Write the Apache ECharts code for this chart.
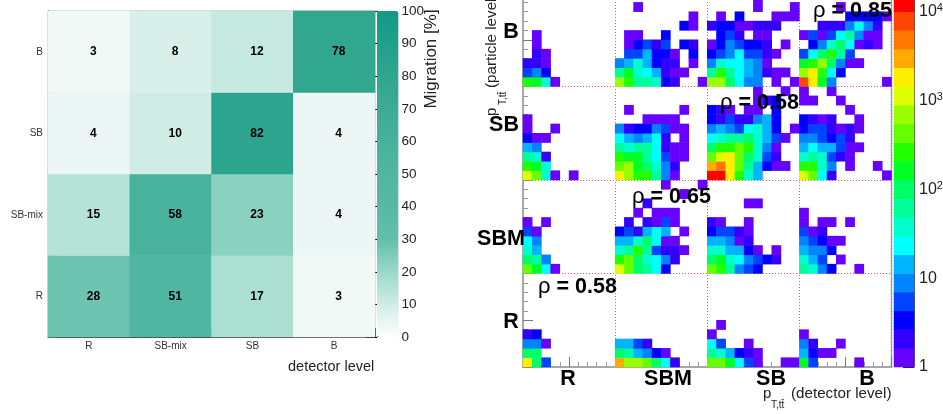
<!DOCTYPE html>
<html><head><meta charset="utf-8">
<style>html,body{margin:0;padding:0;background:#fff}#c{width:943px;height:414px}</style>
<script src="https://cdn.jsdelivr.net/npm/echarts@6/dist/echarts.min.js"></script>
</head><body><div id="c"></div>
<script>
// ---- left matrix (migration, percent)
const migCats = ['R','SB-mix','SB','B'];
const migR   = [28,51,17,3];
const migMix = [15,58,23,4];
const migSB  = [4,10,82,4];
const migB   = [3,8,12,78];
const migTicks = [0,10,20,30,40,50,60,70,80,90,100];
const migColors = ['#ffffff','#cfece5','#9bd9ca','#62bfaa','#57b9a4','#50b6a1','#47b19c','#3cab96','#30a68f','#21a08a','#0f9a85'];

// ---- right matrix, read as colour-level (0 = empty, 1..20 = palette step), rows bottom to top
const r00=[16,10,4,0,0,0,0,0,0,0, 17,14,14,13,10,7,2,0,0,0, 13,13,11,7,4,1,0,0,1,1, 11,4,0,0,0,0,1,0,0,0];
const r01=[10,10,0,0,0,0,0,0,0,0, 10,9,6,5,3,1,0,0,0,0, 9,8,6,3,2,1,0,0,0,0, 6,3,1,1,0,0,0,0,0,0];
const r02=[5,5,1,0,0,0,0,0,0,0, 6,6,4,2,0,0,0,0,0,0, 7,4,0,0,1,0,0,0,0,0, 5,2,0,0,1,0,0,0,0,0];
const r03=[2,3,0,0,0,0,0,0,0,0, 0,0,0,0,0,0,0,0,0,0, 1,0,0,0,0,0,0,0,0,0, 1,0,0,0,0,0,0,0,0,0];
const r04=[0,0,0,0,0,0,0,0,0,0, 0,0,0,0,0,0,0,0,0,0, 0,1,0,0,0,0,0,0,0,0, 0,0,0,0,0,0,0,0,0,0];
const r05=[],r06=[],r07=[],r08=[],r09=[];
const r10=[13,11,7,1,0,0,0,0,0,0, 15,13,10,9,7,3,0,0,0,0, 13,12,9,5,4,3,0,0,0,0, 9,8,5,3,0,0,1,0,0,0];
const r11=[10,9,5,0,0,0,0,0,0,0, 12,13,10,8,7,5,2,0,0,0, 10,11,8,7,5,4,3,2,0,0, 8,6,4,0,1,0,0,0,0,0];
const r12=[8,6,0,0,0,0,0,0,0,0, 8,9,12,9,4,2,2,1,0,0, 8,8,6,6,3,1,0,1,0,0, 6,5,5,3,0,0,0,0,0,0];
const r13=[7,5,0,0,0,0,0,0,0,0, 6,6,8,10,7,1,1,0,0,0, 6,6,5,1,2,0,0,0,0,0, 5,4,3,1,1,0,0,0,0,0];
const r14=[4,1,0,0,0,0,0,0,0,0, 3,4,2,6,7,6,0,1,0,0, 3,4,4,2,1,0,0,0,0,0, 4,1,2,0,0,0,0,0,0,0];
const r15=[1,0,1,0,0,0,0,0,0,0, 0,2,0,2,1,4,1,0,0,0, 2,1,0,0,1,0,0,0,0,0, 1,0,1,1,0,1,0,0,0,0];
const r16=[0,0,0,0,0,0,0,0,0,0, 0,0,1,0,1,1,1,0,0,0, 0,0,0,0,0,0,0,0,0,0, 1,0,0,0,0,0,0,0,0,0];
const r17=[0,0,0,0,0,0,0,0,0,0, 0,0,0,2,0,0,0,0,0,0, 0,0,0,0,1,1,0,0,0,0, 0,0,0,0,0,0,0,0,0,0];
const r18=[0,0,0,0,0,0,0,0,0,0, 0,0,0,0,0,0,0,1,0,0, 0,0,0,0,0,0,0,0,0,0, 0,0,0,0,0,0,0,0,0,0];
const r19=[0,0,0,0,0,0,0,0,0,0, 0,0,0,0,0,1,0,0,0,1, 0,0,0,0,0,0,0,0,0,0, 0,0,0,0,0,0,0,0,0,0];
const r20=[15,13,8,1,0,1,0,0,0,0, 16,14,12,12,9,5,1,0,0,0, 20,20,16,12,8,6,0,0,0,0, 15,13,7,2,0,0,0,0,0,1];
const r21=[12,11,8,0,0,0,0,0,0,0, 13,14,11,10,8,5,2,0,0,0, 17,18,16,13,9,6,3,1,1,0, 12,12,8,5,0,1,0,0,1,0];
const r22=[9,8,2,0,0,0,0,0,0,0, 12,11,11,9,7,4,1,1,0,0, 13,15,16,13,10,8,4,2,0,0, 8,9,8,4,2,1,0,0,0,0];
const r23=[6,5,0,0,0,0,0,0,0,0, 9,8,9,9,7,2,1,1,0,0, 10,12,12,13,12,8,5,1,0,0, 6,7,6,6,4,1,1,0,0,0];
const r24=[3,1,1,0,0,0,0,0,0,0, 7,6,5,6,7,2,0,1,0,0, 7,8,9,9,10,8,6,4,1,0, 5,5,4,3,4,2,0,0,0,0];
const r25=[1,0,0,1,0,0,0,0,0,0, 5,2,3,3,5,4,1,1,0,0, 5,6,5,4,7,8,6,3,0,1, 3,4,4,2,1,2,1,0,0,0];
const r26=[1,0,0,0,0,0,0,0,0,0, 0,0,0,1,1,1,1,0,0,0, 3,2,4,2,2,5,6,3,0,0, 3,2,1,2,0,0,1,0,0,0];
const r27=[0,0,0,0,0,0,0,0,0,0, 0,1,0,0,0,0,0,1,0,0, 3,2,1,0,1,1,0,3,0,0, 0,0,0,0,0,1,0,0,0,0];
const r28=[0,0,0,0,0,0,0,0,0,0, 0,0,0,0,0,0,0,0,0,0, 0,0,0,0,0,1,2,3,0,0, 1,1,0,0,1,0,0,0,0,0];
const r29=[0,0,0,0,0,0,0,0,0,0, 0,0,0,0,0,0,0,0,0,0, 0,0,0,0,0,1,0,0,1,0, 1,0,0,1,0,0,0,0,0,0];
const r30=[12,11,8,1,0,0,0,0,0,0, 14,12,9,9,8,3,2,0,0,1, 14,14,10,7,5,5,0,1,0,1, 19,16,11,5,0,0,0,0,0,1];
const r31=[4,5,3,0,0,0,0,0,0,0, 9,11,8,7,6,2,1,1,0,0, 9,12,9,7,6,5,2,1,1,0, 14,16,12,7,3,0,0,0,0,0];
const r32=[2,2,1,0,0,0,0,0,0,0, 5,6,8,6,3,2,2,0,1,0, 5,8,7,7,6,5,1,0,0,0, 11,12,14,10,5,1,1,0,0,0];
const r33=[0,2,1,0,0,0,0,0,0,0, 0,4,4,6,3,3,1,0,3,0, 3,4,5,7,4,4,2,1,0,0, 4,7,10,12,9,4,0,0,0,0];
const r34=[0,1,0,0,0,0,0,0,0,0, 0,1,3,4,2,4,0,3,2,0, 1,3,5,4,3,3,2,0,1,0, 0,3,5,8,10,7,1,2,1,0];
const r35=[0,1,0,0,0,0,0,0,0,0, 0,1,1,0,0,3,0,0,0,0, 0,3,4,2,0,1,1,0,0,0, 1,4,1,4,7,9,5,1,1,0];
const r36=[0,0,0,0,0,0,0,0,0,0, 0,0,0,0,0,0,0,3,1,0, 2,3,3,1,1,2,2,2,0,0, 0,0,2,2,2,5,7,5,2,0];
const r37=[0,0,0,0,0,0,0,0,0,0, 0,0,0,0,0,0,0,0,1,0, 0,1,0,3,0,0,0,1,1,1, 0,0,0,0,0,3,3,3,3,1];
const r38=[0,0,0,0,0,0,0,0,0,0, 0,0,1,0,0,0,0,0,0,0, 0,0,0,0,0,1,0,0,0,1, 0,0,0,0,1,0,0,0,0,0];
const r39=[0,0,0,0,0,0,0,0,0,0, 0,0,0,0,0,0,0,0,0,0, 0,0,0,0,0,1,0,0,0,0, 0,0,0,0,0,0,0,0,0,0];
const levelRows=[r00,r01,r02,r03,r04,r05,r06,r07,r08,r09,r10,r11,r12,r13,r14,r15,r16,r17,r18,r19,
                 r20,r21,r22,r23,r24,r25,r26,r27,r28,r29,r30,r31,r32,r33,r34,r35,r36,r37,r38,r39];
const palette=['#6600ff','#3300ff','#0000ff','#0044ff','#0084ff','#00b4ff','#00ffff','#00ffcc','#00ff99','#00ff66',
               '#00ff22','#22ff00','#66ff00','#99ff00','#e0ff00','#ffee00','#ffaa00','#ff7700','#ff4400','#ff0000'];
const binIdx=[...Array(40).keys()].map(String);
const barLevels=palette.map((_,i)=>i+1);
const decadeTicks=[0,1,2,3,4];
const minorCounts=[2,3,4,5,6,7,8,9,20,30,40,50,60,70,80,90,200,300,400,500,600,700,800,900,2000,3000,4000,5000,6000,7000,8000,9000];

const migData=[];
[migR,migMix,migSB,migB].forEach((row,y)=>row.forEach((v,x)=>migData.push([x,y,v])));
const cellData=[];
levelRows.forEach((row,y)=>row.forEach((v,x)=>{if(v>0)cellData.push([x,y,v]);}));
const FONT='"Liberation Sans"';
const axisGray='#a8a8a8';
const edge=(i)=>i%10===0&&i>0;
const rho=(x,y,val)=>({type:'text',x,y,z:100,style:{
  text:'{a|ρ}{b| = '+val+'}',textVerticalAlign:'middle',
  rich:{a:{fontFamily:FONT,fontSize:22,fill:'#000'},b:{fontFamily:FONT,fontSize:21.5,fontWeight:'bold',fill:'#000'}}}});
const big=(x,y,t)=>({type:'text',x,y,z:100,style:{text:t,fontFamily:FONT,fontWeight:'bold',fontSize:21.5,fill:'#000',textAlign:'center',textVerticalAlign:'middle'}});

const chart=echarts.init(document.getElementById('c'),null,{renderer:'canvas'});
chart.setOption({
  animation:false,
  backgroundColor:'#fff',
  grid:[
    {left:48,top:11,width:327,height:326,show:true,borderColor:'#b0b0b0',borderWidth:1,backgroundColor:'transparent',outerBoundsMode:'none'},
    {left:377,top:11,width:21.5,height:326,outerBoundsMode:'none'},
    {left:523,top:-7,width:368.5,height:374,show:true,borderColor:axisGray,borderWidth:1.5,backgroundColor:'transparent',outerBoundsMode:'none'},
    {left:894,top:-7,width:20,height:374,outerBoundsMode:'none'}
  ],
  xAxis:[
    {gridIndex:0,type:'category',data:migCats,
      axisLine:{lineStyle:{color:'#444',width:1}},
      axisTick:{show:true,inside:true,length:9,lineStyle:{color:'#333'}},
      axisLabel:{fontFamily:FONT,fontSize:10,color:'#333',margin:4}},
    {gridIndex:1,type:'value',min:0,max:1,show:false},
    {gridIndex:2,type:'category',position:'bottom',data:binIdx,
      axisLine:{lineStyle:{color:axisGray,width:2}},
      axisTick:{show:true,inside:true,length:5,interval:0,lineStyle:{color:'#999'}},
      axisLabel:{show:false},
      splitLine:{show:true,interval:edge,lineStyle:{color:'#ff4d4d',type:[1,2],width:1}}},
    {gridIndex:2,type:'category',position:'bottom',data:binIdx,
      axisLine:{show:false},
      axisTick:{show:true,inside:true,length:10,interval:(i)=>i%5===0,lineStyle:{color:'#777'}},
      axisLabel:{show:false},splitLine:{show:false}},
    {gridIndex:3,type:'category',data:['c'],show:false}
  ],
  yAxis:[
    {gridIndex:0,type:'category',data:migCats,
      axisLine:{lineStyle:{color:'#000',width:1}},
      axisTick:{show:true,inside:true,length:10,lineStyle:{color:'#555'}},
      axisLabel:{fontFamily:FONT,fontSize:10,color:'#333',margin:5}},
    {gridIndex:1,type:'value',position:'right',min:0,max:100,interval:10,
      axisLine:{show:true,lineStyle:{color:'#555'}},
      axisTick:{show:true,inside:true,length:11,lineStyle:{color:'#000'}},
      axisLabel:{fontFamily:FONT,fontSize:13.5,color:'#222',margin:3,customValues:migTicks},
      splitLine:{show:false}},
    {gridIndex:2,type:'category',position:'left',data:binIdx,
      axisLine:{lineStyle:{color:axisGray,width:2}},
      axisTick:{show:true,inside:true,length:5,interval:0,lineStyle:{color:'#999'}},
      axisLabel:{show:false},
      splitLine:{show:true,interval:edge,lineStyle:{color:'#ff4d4d',type:[1,2],width:1}}},
    {gridIndex:2,type:'category',position:'left',data:binIdx,
      axisLine:{show:false},
      axisTick:{show:true,inside:true,length:10,interval:(i)=>i%5===0,lineStyle:{color:'#777'}},
      axisLabel:{show:false},splitLine:{show:false}},
    {gridIndex:3,type:'category',data:barLevels.map(String),show:false},
    {gridIndex:3,type:'value',position:'right',min:0,max:4.21,
      axisLine:{show:true,lineStyle:{color:'#555'}},
      axisTick:{show:true,inside:true,length:11,customValues:decadeTicks,lineStyle:{color:'#222'}},
      axisLabel:{customValues:decadeTicks,margin:5,
        formatter:(v)=>v===0?'{b|1}':v===1?'{b|10}':'{b|10}{s|'+v+'}',
        rich:{b:{fontFamily:FONT,fontSize:16,color:'#222',lineHeight:18},
              s:{fontFamily:FONT,fontSize:11,color:'#222',lineHeight:18,verticalAlign:'top'}}},
      splitLine:{show:false}},
    {gridIndex:3,type:'value',position:'right',min:0,max:4.21,
      axisLine:{show:false},
      axisTick:{show:true,inside:true,length:6,customValues:minorCounts.map(Math.log10),lineStyle:{color:'#333'}},
      axisLabel:{show:false},splitLine:{show:false}}
  ],
  visualMap:[
    {type:'continuous',seriesIndex:0,min:0,max:100,show:true,calculable:false,showLabel:false,realtime:false,
      left:377,top:11,itemWidth:21.5,itemHeight:326,padding:0,text:null,
      inRange:{color:migColors},hoverLink:false},
    {type:'piecewise',seriesIndex:[1,2],show:false,dimension:2,
      pieces:palette.map((c,i)=>({value:i+1,color:c}))}
  ],
  series:[
    {type:'heatmap',xAxisIndex:0,yAxisIndex:0,data:migData,
      label:{show:true,offset:[4.5,0],fontFamily:FONT,fontSize:12,fontWeight:'bold',color:'#000'},
      itemStyle:{borderWidth:0},emphasis:{disabled:true}},
    {type:'heatmap',xAxisIndex:2,yAxisIndex:2,data:cellData,emphasis:{disabled:true},progressive:0},
    {type:'heatmap',xAxisIndex:4,yAxisIndex:4,data:barLevels.map((v,i)=>[0,i,v]),emphasis:{disabled:true}}
  ],
  graphic:{elements:[
    {type:'text',x:288,y:367,style:{text:'detector level',fontFamily:FONT,fontSize:14.5,fill:'#222',textVerticalAlign:'middle'}},
    {type:'text',x:431,y:59,rotation:Math.PI/2,style:{text:'Migration [%]',fontFamily:FONT,fontSize:17,fill:'#222',textAlign:'center',textVerticalAlign:'middle'}},
    big(511,32,'B'),big(504,125,'SB'),big(501,239,'SBM'),big(511,322,'R'),
    big(568,379,'R'),big(668,379,'SBM'),big(771,379,'SB'),big(867,379,'B'),
    rho(813,11,'0.85'),rho(720,103,'0.58'),rho(632,197,'0.65'),rho(538,287,'0.58'),
    {type:'text',x:763,y:394,style:{text:'p',fontFamily:FONT,fontSize:15,fill:'#222',textVerticalAlign:'middle'}},
    {type:'text',x:771,y:405,style:{text:'T,tt̄',fontFamily:FONT,fontSize:10,fill:'#222',textVerticalAlign:'middle'}},
    {type:'text',x:791,y:394,style:{text:'(detector level)',fontFamily:FONT,fontSize:15.2,fill:'#222',textVerticalAlign:'middle'}},
    {type:'text',x:492,y:116,rotation:Math.PI/2,style:{text:'p',fontFamily:FONT,fontSize:15,fill:'#222',textVerticalAlign:'middle'}},
    {type:'text',x:503,y:105,rotation:Math.PI/2,style:{text:'T,tt̄',fontFamily:FONT,fontSize:10,fill:'#222',textVerticalAlign:'middle'}},
    {type:'text',x:492,y:88,rotation:Math.PI/2,style:{text:'(particle level)',fontFamily:FONT,fontSize:15.2,fill:'#222',textVerticalAlign:'middle'}}
  ]}
});
</script></body></html>
